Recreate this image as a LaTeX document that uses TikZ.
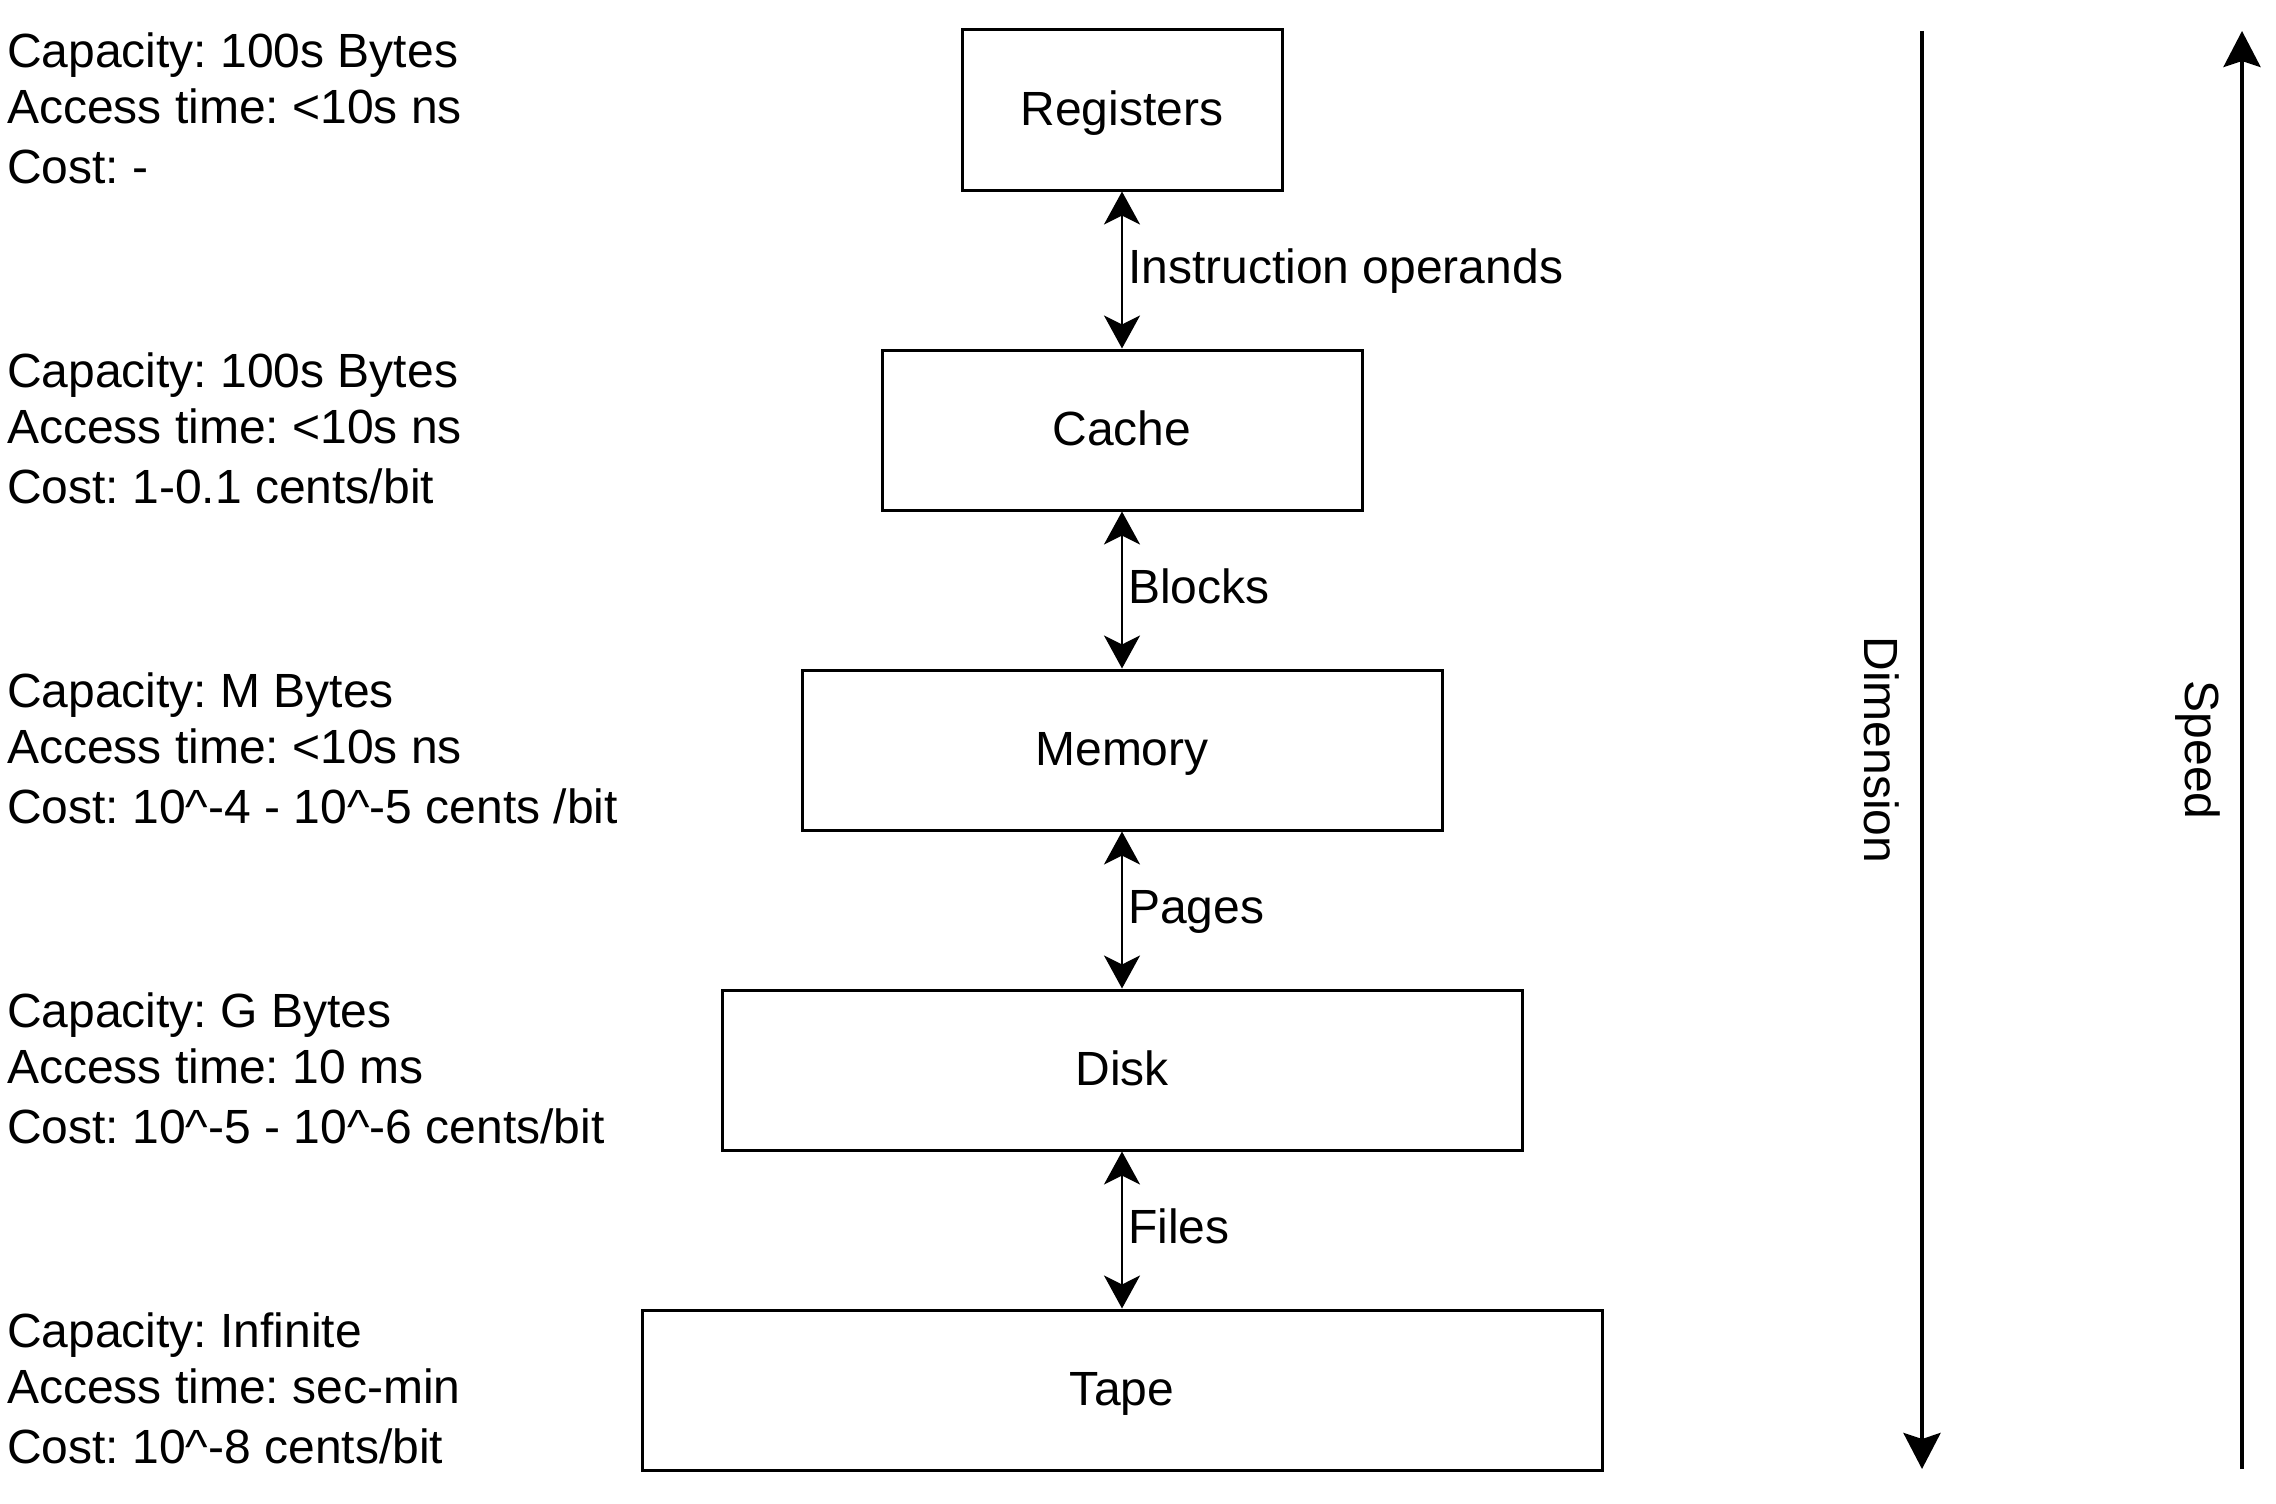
\documentclass[tikz,border=0pt]{standalone}
\usepackage{fontspec}
\setmainfont{Liberation Sans}
\usetikzlibrary{arrows.meta}
\frenchspacing
\begin{document}
\begin{tikzpicture}[x=1pt,y=-1pt,
  every node/.style={font=\fontsize{48}{58}\selectfont\frenchspacing, inner sep=0pt},
  level/.style={draw, line width=3pt, minimum height=160pt, text height=40pt, text depth=10pt, align=center},
  info/.style={anchor=base west},
  lbl/.style={anchor=base west},
  link/.style={line width=2.2pt, {Stealth[length=33pt,width=36pt,inset=9pt]}-{Stealth[length=33pt,width=36pt,inset=9pt]}},
  axisarrow/.style={line width=4pt, -{Stealth[length=36pt,width=37pt,inset=6pt]}},
  axislbl/.style={rotate=-90, anchor=base}]
\useasboundingbox (0,0) rectangle (2276,1504);

% hierarchy boxes
\node[level, minimum width=320pt] (reg)   at (1122,110)  {Registers};
\node[level, minimum width=480pt] (cache) at (1122,430)  {Cache};
\node[level, minimum width=640pt] (mem)   at (1122,750)  {Memory};
\node[level, minimum width=800pt] (disk)  at (1122,1070) {Disk};
\node[level, minimum width=960pt] (tape)  at (1122,1390) {Tape};

% links
\draw[link] (reg.south)   -- (cache.north);
\draw[link] (cache.south) -- (mem.north);
\draw[link] (mem.south)   -- (disk.north);
\draw[link] (disk.south)  -- (tape.north);

\node[lbl] (l1) at (1128,283)  {Instruction operands};
\node[lbl] (l2) at (1128,603)  {Blocks};
\node[lbl] (l3) at (1128,923)  {Pages};
\node[lbl] (l4) at (1128,1243) {Files};

% info texts
\node[info] (i0a) at (7,67)  {Capacity: 100s Bytes};
\node[info] (i0b) at (7,123) {Access time: <10s ns};
\node[info] (i0c) at (7,183) {Cost: -};

\node[info] (i1a) at (7,387) {Capacity: 100s Bytes};
\node[info] (i1b) at (7,443) {Access time: <10s ns};
\node[info] (i1c) at (7,503) {Cost: 1-0.1 cents/bit};

\node[info] (i2a) at (7,707) {Capacity: M Bytes};
\node[info] (i2b) at (7,763) {Access time: <10s ns};
\node[info] (i2c) at (7,823) {Cost: 10\textasciicircum-4 - 10\textasciicircum-5 cents /bit};

\node[info] (i3a) at (7,1027) {Capacity: G Bytes};
\node[info] (i3b) at (7,1083) {Access time: 10 ms};
\node[info] (i3c) at (7,1143) {Cost: 10\textasciicircum-5 - 10\textasciicircum-6 cents/bit};

\node[info] (i4a) at (7,1347) {Capacity: Infinite};
\node[info] (i4b) at (7,1403) {Access time: sec-min};
\node[info] (i4c) at (7,1463) {Cost: 10\textasciicircum-8 cents/bit};

% axes
\coordinate (dtop) at (1922,31);
\coordinate (dbot) at (1922,1469);
\draw[axisarrow] (dtop) -- (dbot);
\coordinate (sbot) at (2242,1469);
\coordinate (stop) at (2242,31);
\draw[axisarrow] (sbot) -- (stop);

\node[axislbl] (dim) at (1864,750) {Dimension};
\node[axislbl] (spd) at (2185,750) {Speed};
\end{tikzpicture}
\end{document}
